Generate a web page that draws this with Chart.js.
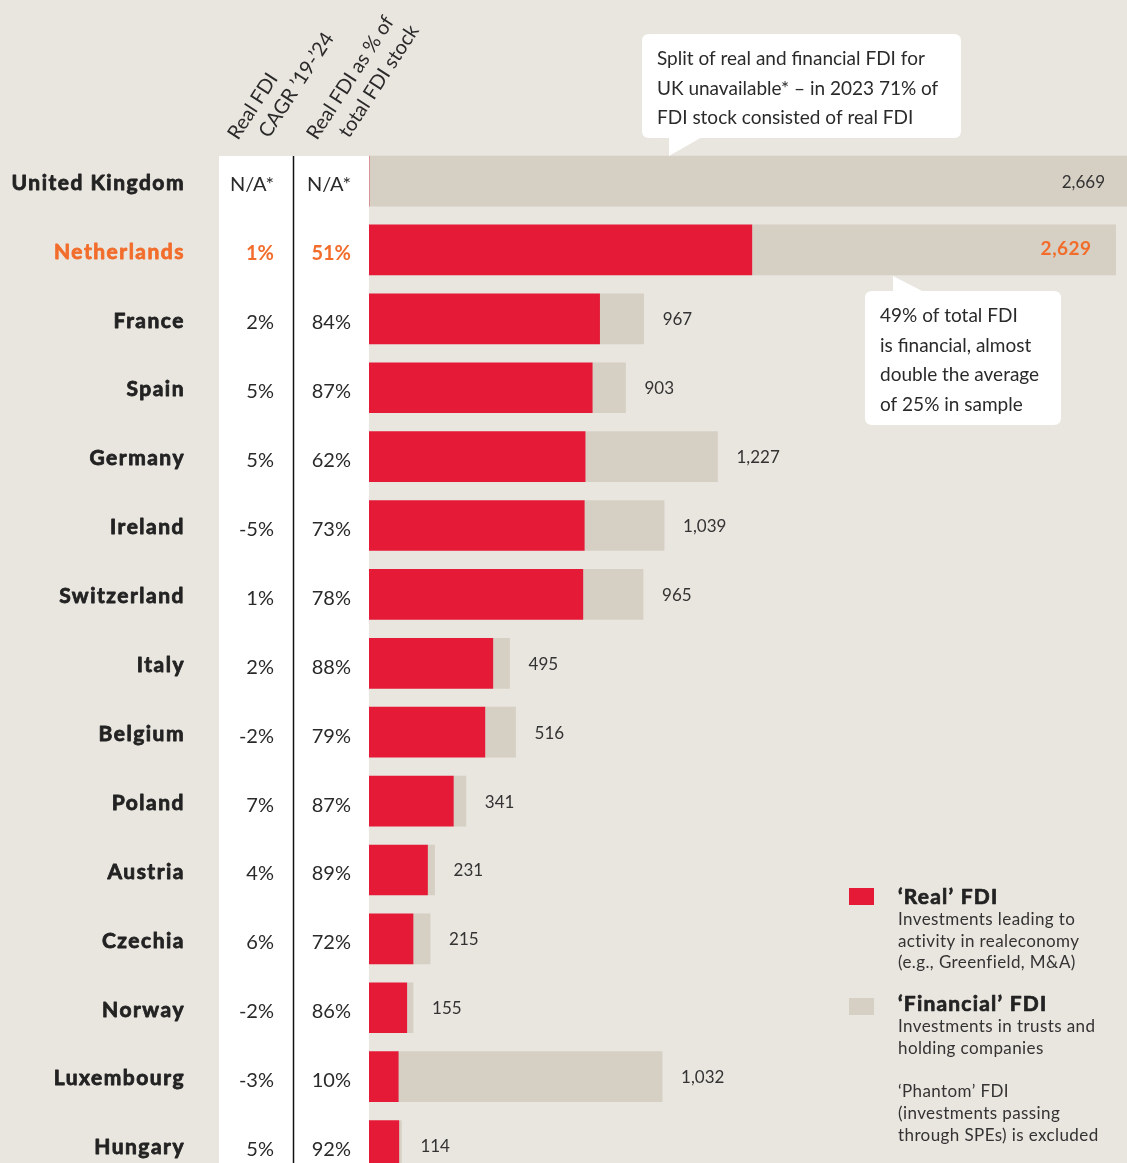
<!DOCTYPE html>
<html><head><meta charset="utf-8">
<script src="https://cdn.jsdelivr.net/npm/chart.js@4.4.1/dist/chart.umd.min.js"></script>
<style>
html,body{margin:0;padding:0;background:#E9E5DF;overflow:hidden;}
#wrap{position:relative;width:1127px;height:1180px;}
</style></head><body>
<div id="wrap"><canvas id="c" width="1127" height="1180"></canvas></div>
<script>
const countries = ['United Kingdom','Netherlands','France','Spain','Germany','Ireland','Switzerland','Italy','Belgium','Poland','Austria','Czechia','Norway','Luxembourg','Hungary'];
const totalFDI  = [2669,2629,967,903,1227,1039,965,495,516,341,231,215,155,1032,114];
const realFDI   = [0,1348,812,786,761,758,753,436,408,297,206,155,133,103,105];
const financialFDI = [2669,1281,155,117,466,281,212,59,108,44,25,60,22,929,9];
const cagrLabels = ['N/A*','1%','2%','5%','5%','-5%','1%','2%','-2%','7%','4%','6%','-2%','-3%','5%'];
const realShareLabels = ['N/A*','51%','84%','87%','62%','73%','78%','88%','79%','87%','89%','72%','86%','10%','92%'];
const valueLabels = ['2,669','2,629','967','903','1,227','1,039','965','495','516','341','231','215','155','1,032','114'];
const highlight = 'Netherlands';

const RED='#E41A37', GREY='#D6CFC4', ORANGE='#F26D2B', TEXT='#222222', BG='#E9E5DF';
const FONT='Lato, "Open Sans", sans-serif';

function roundRect(ctx,x,y,w,h,r){ctx.beginPath();ctx.moveTo(x+r,y);ctx.lineTo(x+w-r,y);ctx.quadraticCurveTo(x+w,y,x+w,y+r);ctx.lineTo(x+w,y+h-r);ctx.quadraticCurveTo(x+w,y+h,x+w-r,y+h);ctx.lineTo(x+r,y+h);ctx.quadraticCurveTo(x,y+h,x,y+h-r);ctx.lineTo(x,y+r);ctx.quadraticCurveTo(x,y,x+r,y);ctx.closePath();}

function heavyText(ctx,t,x,y,w){ctx.lineWidth=w;ctx.strokeStyle=ctx.fillStyle;ctx.lineJoin='round';ctx.strokeText(t,x,y);ctx.fillText(t,x,y);}

const bgPlugin = {
  id:'bgPlugin',
  beforeDraw(chart){
    const ctx=chart.ctx, y=chart.scales.y;
    ctx.save();
    ctx.fillStyle=BG; ctx.fillRect(0,0,chart.width,chart.height);
    const top=y.getPixelForValue(0)-25;
    ctx.fillStyle='#FFFFFF'; ctx.fillRect(219,top,150,chart.height-top);
    ctx.strokeStyle='#111'; ctx.lineWidth=1.5;
    ctx.beginPath(); ctx.moveTo(293.5,top); ctx.lineTo(293.5,chart.height); ctx.stroke();
    ctx.restore();
  },
  afterDraw(chart){
    const ctx=chart.ctx, y=chart.scales.y, x=chart.scales.x;
    ctx.save();
    ctx.textBaseline='middle';
    countries.forEach((c,i)=>{
      const py=y.getPixelForValue(i);
      const hl = c===highlight;
      // country label
      ctx.fillStyle = hl?ORANGE:TEXT;
      ctx.font='bold 21px '+FONT;
      ctx.letterSpacing='1.5px';
      ctx.textAlign='right';
      heavyText(ctx,c,185,py+2,0.8);
      ctx.letterSpacing='0px';
      // columns
      ctx.font=(hl?'bold ':'')+'20px '+FONT;
      ctx.fillStyle = hl?ORANGE:'#2a2a2a';
      ctx.fillText(cagrLabels[i],274,py+4);
      ctx.fillText(realShareLabels[i],351,py+4);
      // value labels
      const px=x.getPixelForValue(totalFDI[i]);
      if(i===0){
        ctx.font='17px '+FONT; ctx.fillStyle='#333'; ctx.textAlign='right';
        ctx.fillText(valueLabels[i],1105,py+1);
      } else if(hl){
        ctx.font='bold 19px '+FONT; ctx.fillStyle=ORANGE; ctx.textAlign='right';
        ctx.letterSpacing='0.5px';
        ctx.fillText(valueLabels[i],px-24,py-1);
        ctx.letterSpacing='0px';
      } else {
        ctx.font='17px '+FONT; ctx.fillStyle='#333'; ctx.textAlign='left';
        ctx.fillText(valueLabels[i],px+19,py+1);
      }
    });

    // rotated headers
    ctx.font='20px '+FONT; ctx.fillStyle='#2a2a2a'; ctx.textAlign='left'; ctx.textBaseline='alphabetic';
    const ang=-57*Math.PI/180;
    const heads=[['Real FDI',238,141],['CAGR \u201919-\u201924',269,139],['Real FDI as % of',317,141],['total FDI stock',349,139]];
    heads.forEach(h=>{ctx.save();ctx.translate(h[1],h[2]);ctx.rotate(ang);ctx.fillText(h[0],0,0);ctx.restore();});

    // callout 1
    ctx.textBaseline='middle';
    ctx.fillStyle='#FFFFFF';
    roundRect(ctx,642,34,319,104,7); ctx.fill();
    ctx.beginPath(); ctx.moveTo(669,136); ctx.lineTo(669,156); ctx.lineTo(704,136); ctx.closePath(); ctx.fill();
    ctx.fillStyle='#2a2a2a'; ctx.font='19px '+FONT;
    ['Split of real and financial FDI for','UK unavailable* \u2013 in 2023 71% of','FDI stock consisted of real FDI'].forEach((t,k)=>ctx.fillText(t,657,59+k*29.5));

    // callout 2
    ctx.fillStyle='#FFFFFF';
    roundRect(ctx,865,291,196,134,7); ctx.fill();
    ctx.beginPath(); ctx.moveTo(893,293); ctx.lineTo(893,276); ctx.lineTo(926,293); ctx.closePath(); ctx.fill();
    ctx.fillStyle='#2a2a2a'; ctx.font='19px '+FONT;
    ['49% of total FDI','is financial, almost','double the average','of 25% in sample'].forEach((t,k)=>ctx.fillText(t,880,316+k*29.5));

    // legend
    ctx.fillStyle=RED; ctx.fillRect(849,888,25,17);
    ctx.fillStyle=GREY; ctx.fillRect(849,998,25,17);
    ctx.fillStyle=TEXT; ctx.font='bold 21px '+FONT; ctx.letterSpacing='1.2px';
    heavyText(ctx,'\u2018Real\u2019 FDI',898,897,0.7);
    heavyText(ctx,'\u2018Financial\u2019 FDI',898,1004,0.7);
    ctx.letterSpacing='0.4px';
    ctx.font='17px '+FONT; ctx.fillStyle='#333';
    ['Investments leading to','activity in realeconomy','(e.g., Greenfield, M&A)'].forEach((t,k)=>ctx.fillText(t,898,920+k*21.5));
    ['Investments in trusts and','holding companies'].forEach((t,k)=>ctx.fillText(t,898,1027+k*21.5));
    ['\u2018Phantom\u2019 FDI','(investments passing','through SPEs) is excluded'].forEach((t,k)=>ctx.fillText(t,898,1092+k*22));
    ctx.restore();
  }
};

new Chart(document.getElementById('c'),{
  type:'bar',
  data:{labels:countries,datasets:[
    {label:'\u2018Real\u2019 FDI',data:realFDI,backgroundColor:RED,borderWidth:0,barThickness:50},
    {label:'\u2018Financial\u2019 FDI',data:financialFDI,backgroundColor:GREY,borderWidth:0,barThickness:50}
  ]},
  options:{
    indexAxis:'y',responsive:false,animation:false,
    layout:{padding:{left:369,top:146.6,right:0,bottom:0}},
    plugins:{legend:{display:false},tooltip:{enabled:false}},
    scales:{
      x:{stacked:true,display:false,min:0,max:2669},
      y:{stacked:true,display:false}
    }
  },
  plugins:[bgPlugin]
});
</script></body></html>
